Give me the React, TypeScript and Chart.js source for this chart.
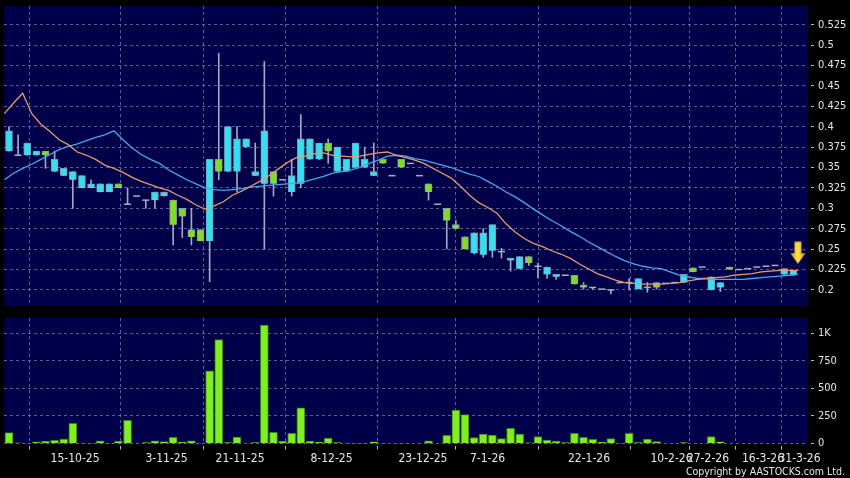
import React, { useEffect, useRef } from 'react';
import { Chart, registerables } from 'chart.js';

Chart.register(...registerables);

// ---------------- data ----------------
const opens = [
  0.370, 0.365, 0.365, 0.365, 0.370, 0.345, 0.340, 0.335, 0.325, 0.325,
  0.320, 0.320, 0.330, 0.305, 0.315, 0.310, 0.310, 0.315, 0.310, 0.300,
  0.274, 0.274, 0.260, 0.360, 0.345, 0.345, 0.375, 0.340, 0.330, 0.345,
  0.335, 0.320, 0.330, 0.360, 0.360, 0.380, 0.345, 0.345, 0.350, 0.350,
  0.340, 0.360, 0.340, 0.360, 0.355, 0.340, 0.330, 0.305, 0.300, 0.280,
  0.265, 0.245, 0.243, 0.248, 0.247, 0.236, 0.226, 0.241, 0.229, 0.219,
  0.216, 0.218, 0.218, 0.206, 0.203, 0.201, 0.200, 0.209, 0.209, 0.201,
  0.202, 0.209, 0.208, 0.209, 0.209, 0.227, 0.228, 0.200, 0.203, 0.228,
  0.225, 0.226, 0.228, 0.229, 0.230, 0.219, 0.218,
];
const highs = [
  0.400, 0.390, 0.380, 0.370, 0.370, 0.370, 0.349, 0.345, 0.340, 0.335,
  0.330, 0.330, 0.330, 0.325, 0.315, 0.310, 0.320, 0.320, 0.310, 0.300,
  0.300, 0.274, 0.360, 0.490, 0.400, 0.400, 0.385, 0.380, 0.480, 0.345,
  0.335, 0.360, 0.415, 0.385, 0.380, 0.385, 0.375, 0.360, 0.380, 0.375,
  0.380, 0.360, 0.340, 0.360, 0.355, 0.340, 0.330, 0.305, 0.300, 0.285,
  0.265, 0.270, 0.275, 0.280, 0.251, 0.239, 0.241, 0.241, 0.233, 0.228,
  0.219, 0.218, 0.218, 0.209, 0.203, 0.201, 0.200, 0.209, 0.214, 0.214,
  0.209, 0.209, 0.208, 0.209, 0.219, 0.227, 0.228, 0.216, 0.209, 0.228,
  0.225, 0.226, 0.228, 0.229, 0.230, 0.226, 0.224,
];
const lows = [
  0.370, 0.365, 0.365, 0.365, 0.349, 0.345, 0.340, 0.300, 0.325, 0.325,
  0.320, 0.320, 0.325, 0.305, 0.315, 0.300, 0.300, 0.315, 0.255, 0.264,
  0.255, 0.260, 0.210, 0.335, 0.345, 0.320, 0.375, 0.340, 0.250, 0.315,
  0.335, 0.315, 0.325, 0.360, 0.360, 0.355, 0.345, 0.345, 0.350, 0.350,
  0.340, 0.355, 0.340, 0.350, 0.355, 0.340, 0.310, 0.305, 0.250, 0.275,
  0.250, 0.244, 0.240, 0.240, 0.239, 0.223, 0.226, 0.230, 0.215, 0.214,
  0.213, 0.218, 0.207, 0.201, 0.201, 0.201, 0.195, 0.209, 0.200, 0.201,
  0.197, 0.201, 0.208, 0.209, 0.209, 0.222, 0.228, 0.200, 0.198, 0.225,
  0.225, 0.226, 0.228, 0.229, 0.230, 0.219, 0.218,
];
const closes = [
  0.395, 0.365, 0.380, 0.370, 0.365, 0.360, 0.349, 0.345, 0.340, 0.330,
  0.330, 0.330, 0.325, 0.305, 0.315, 0.310, 0.320, 0.320, 0.280, 0.290,
  0.265, 0.260, 0.360, 0.345, 0.400, 0.385, 0.385, 0.345, 0.395, 0.330,
  0.335, 0.340, 0.385, 0.385, 0.380, 0.370, 0.375, 0.360, 0.380, 0.360,
  0.345, 0.355, 0.340, 0.350, 0.355, 0.340, 0.320, 0.305, 0.285, 0.275,
  0.250, 0.270, 0.270, 0.280, 0.247, 0.239, 0.241, 0.233, 0.229, 0.228,
  0.219, 0.218, 0.207, 0.203, 0.203, 0.201, 0.200, 0.209, 0.209, 0.214,
  0.204, 0.203, 0.208, 0.209, 0.219, 0.222, 0.228, 0.216, 0.209, 0.225,
  0.225, 0.226, 0.228, 0.229, 0.230, 0.226, 0.224,
];
const volumes = [
  98, 5, 3, 14, 20, 29, 41, 183, 3, 2,
  25, 2, 20, 210, 0, 8, 25, 18, 56, 12,
  25, 2, 657, 940, 8, 59, 0, 8, 1073, 101,
  22, 92, 322, 20, 10, 50, 8, 3, 3, 3,
  16, 3, 0, 3, 0, 0, 25, 0, 74, 303,
  261, 53, 86, 77, 44, 137, 86, 5, 62, 32,
  22, 8, 92, 56, 38, 10, 44, 2, 92, 8,
  41, 18, 0, 0, 8, 0, 0, 62, 16, 0,
  0, 0, 0, 0, 0, 0, 0,
];
// moving averages, one vertex per day boundary (88 values)
const maShort = [
  0.416, 0.429, 0.441, 0.416, 0.403, 0.394, 0.384, 0.378, 0.369, 0.365,
  0.360, 0.353, 0.349, 0.344, 0.338, 0.333, 0.329, 0.325, 0.322, 0.316,
  0.311, 0.304, 0.299, 0.303, 0.308, 0.316, 0.321, 0.327, 0.333, 0.340,
  0.348, 0.356, 0.362, 0.364, 0.367, 0.368, 0.365, 0.364, 0.363, 0.364,
  0.366, 0.368, 0.369, 0.365, 0.362, 0.359, 0.355, 0.349, 0.343, 0.337,
  0.327, 0.316, 0.307, 0.301, 0.294, 0.281, 0.271, 0.263, 0.257, 0.253,
  0.248, 0.244, 0.239, 0.232, 0.226, 0.220, 0.216, 0.212, 0.209, 0.208,
  0.207, 0.207, 0.207, 0.208, 0.209, 0.211, 0.213, 0.214, 0.215, 0.216,
  0.218, 0.219, 0.220, 0.222, 0.223, 0.224, 0.224, 0.224,
];
const maLong = [
  0.335, 0.343, 0.349, 0.354, 0.360, 0.366, 0.372, 0.376, 0.379, 0.383,
  0.387, 0.390, 0.395, 0.384, 0.374, 0.366, 0.360, 0.355, 0.347, 0.341,
  0.335, 0.330, 0.325, 0.323, 0.322, 0.323, 0.324, 0.326, 0.327, 0.328,
  0.329, 0.330, 0.331, 0.333, 0.336, 0.339, 0.343, 0.345, 0.347, 0.350,
  0.355, 0.359, 0.364, 0.365, 0.364, 0.361, 0.359, 0.356, 0.353, 0.350,
  0.346, 0.342, 0.339, 0.333, 0.327, 0.320, 0.314, 0.307, 0.299, 0.292,
  0.285, 0.279, 0.272, 0.266, 0.259, 0.253, 0.247, 0.241, 0.236, 0.232,
  0.229, 0.227, 0.226, 0.222, 0.218, 0.216, 0.214, 0.214, 0.213, 0.213,
  0.213, 0.213, 0.214, 0.215, 0.216, 0.217, 0.218, 0.219,
];
const dateLabels = [
  '15-10-25', '3-11-25', '21-11-25', '8-12-25', '23-12-25', '7-1-26',
  '22-1-26', '10-2-26', '27-2-26', '16-3-26', '31-3-26',
];
const dateTickPos = [7.24, 17.27, 25.33, 35.36, 45.39, 52.47, 63.6, 72.64, 76.64, 82.68, 86.68];
const priceTicks = [0.2, 0.225, 0.25, 0.275, 0.3, 0.325, 0.35, 0.375, 0.4, 0.425, 0.45, 0.475, 0.5, 0.525];
const volumeTicks = [0, 250, 500, 750, 1000];
const volumeTickLabels = ['0', '250', '500', '750', '1K'];
const arrowMarker = [{ x: 86.5, y: 0.2455 }];

// ---------------- styling ----------------
const NAVY = '#00004a';
const GRID = 'rgba(125,125,175,0.75)';
const TEXT = '#e6e6e6';
const X_MIN = -0.548;
const X_MAX = 87.61;

const navyBg = {
  id: 'navyBg',
  beforeDraw(chart: any) {
    const { ctx, chartArea: a } = chart;
    ctx.save();
    ctx.fillStyle = NAVY;
    ctx.fillRect(a.left, a.top, a.right - a.left, a.bottom - a.top);
    ctx.restore();
  },
};

function makeArrow() {
  const c = document.createElement('canvas');
  c.width = 16;
  c.height = 23;
  const g = c.getContext('2d')!;
  const grad = g.createLinearGradient(0, 0, 16, 0);
  grad.addColorStop(0, '#c99400');
  grad.addColorStop(0.5, '#ffe34a');
  grad.addColorStop(1, '#c99400');
  g.fillStyle = grad;
  g.beginPath();
  g.moveTo(4.5, 0.5);
  g.lineTo(11.5, 0.5);
  g.lineTo(11.5, 12);
  g.lineTo(15.5, 12);
  g.lineTo(8, 22.5);
  g.lineTo(0.5, 12);
  g.lineTo(4.5, 12);
  g.closePath();
  g.fill();
  return c;
}

const zeroPadding = (s: any) => {
  s.paddingTop = 0;
  s.paddingBottom = 0;
  s.paddingLeft = 0;
  s.paddingRight = 0;
};

const xScaleBase = (showLabels: boolean) => ({
  type: 'linear' as const,
  min: X_MIN,
  max: X_MAX,
  offset: false,
  bounds: 'data' as const,
  afterBuildTicks: (s: any) => {
    s.ticks = dateTickPos.map((v) => ({ value: v }));
  },
  afterFit: (s: any) => {
    s.height = showLabels ? 34.5 : 0;
    zeroPadding(s);
  },
  border: { display: false, dash: [3, 3] },
  grid: {
    color: GRID,
    lineWidth: 1,
    drawTicks: showLabels,
    tickLength: 6,
    tickColor: '#bbbbbb',
    tickBorderDash: [0, 2, 4, 30],
  },
  ticks: {
    display: showLabels,
    autoSkip: false,
    maxRotation: 0,
    minRotation: 0,
    padding: 2,
    color: TEXT,
    font: { family: '"DejaVu Sans Condensed", "DejaVu Sans", sans-serif', size: 12 },
    callback: (_v: any, i: number) => dateLabels[i],
  },
});

const yScaleBase = (min: number, max: number, tickVals: number[], fmt: (v: number, i: number) => string) => ({
  type: 'linear' as const,
  position: 'right' as const,
  min,
  max,
  bounds: 'data' as const,
  afterBuildTicks: (s: any) => {
    s.ticks = tickVals.map((v) => ({ value: v }));
  },
  afterFit: (s: any) => {
    s.width = 42;
    zeroPadding(s);
  },
  border: { display: false, dash: [3, 3] },
  grid: {
    color: GRID,
    lineWidth: 1,
    drawTicks: true,
    tickLength: 6,
    tickColor: '#bbbbbb',
    tickBorderDash: [0, 3, 4, 30],
  },
  ticks: {
    padding: 4,
    color: TEXT,
    font: { family: '"DejaVu Sans Condensed", "DejaVu Sans", sans-serif', size: 11 },
    callback: (v: any, i: number) => fmt(v, i),
  },
});

export default function App() {
  const priceRef = useRef<HTMLCanvasElement>(null);
  const volRef = useRef<HTMLCanvasElement>(null);

  useEffect(() => {
    const idx = opens.map((_, i) => i);
    const wickData = idx.filter((i) => highs[i] > lows[i]).map((i) => ({ x: i, y: [lows[i], highs[i]] }));
    const upData = idx.filter((i) => closes[i] > opens[i]).map((i) => ({ x: i, y: [opens[i], closes[i]] }));
    const downData = idx.filter((i) => closes[i] < opens[i]).map((i) => ({ x: i, y: [closes[i], opens[i]] }));
    const flatData = idx.filter((i) => closes[i] === opens[i]).map((i) => ({ x: i, y: closes[i] }));
    const maShortData = maShort.map((v, k) => ({ x: k - 0.5, y: v }));
    const maLongData = maLong.map((v, k) => ({ x: k - 0.5, y: v }));

    const price = new Chart(priceRef.current!, {
      type: 'bar',
      data: {
        datasets: [
          {
            type: 'line',
            data: maShortData,
            borderColor: '#e8996f',
            borderWidth: 1.3,
            pointRadius: 0,
            tension: 0,
            order: 0,
          } as any,
          {
            type: 'line',
            data: maLongData,
            borderColor: '#43a9ea',
            borderWidth: 1.3,
            pointRadius: 0,
            tension: 0,
            order: 0,
          } as any,
          {
            type: 'scatter',
            data: arrowMarker,
            pointStyle: makeArrow(),
            pointRadius: 8,
            order: -1,
          } as any,
          {
            type: 'bar',
            data: upData,
            backgroundColor: '#30e2f0',
            borderColor: '#8a97ad',
            borderWidth: 1,
            barThickness: 7,
            grouped: false,
            order: 1,
          } as any,
          {
            type: 'bar',
            data: downData,
            backgroundColor: '#80de20',
            borderColor: '#8a97ad',
            borderWidth: 1,
            barThickness: 7,
            grouped: false,
            order: 1,
          } as any,
          {
            type: 'scatter',
            data: flatData,
            pointStyle: 'line',
            pointRadius: 3.5,
            borderColor: '#a9adc0',
            borderWidth: 1.5,
            order: 1,
          } as any,
          {
            type: 'bar',
            data: wickData,
            backgroundColor: '#a3a8ba',
            borderWidth: 0,
            barThickness: 1,
            grouped: false,
            order: 2,
          } as any,
        ],
      },
      options: {
        animation: false,
        responsive: false,
        events: [],
        devicePixelRatio: 1,
        layout: { autoPadding: false, padding: { left: 4, top: 6, right: 0, bottom: 6 } },
        plugins: { legend: { display: false }, tooltip: { enabled: false } },
        scales: {
          x: xScaleBase(false),
          y: yScaleBase(0.1803, 0.5479, priceTicks, (v) => String(v)),
        } as any,
      },
      plugins: [navyBg],
    });

    const vol = new Chart(volRef.current!, {
      type: 'bar',
      data: {
        datasets: [
          {
            data: volumes.map((v, i) => ({ x: i, y: v })),
            backgroundColor: '#7ef01a',
            borderColor: '#3f7f14',
            borderWidth: 1,
            barThickness: 8,
            grouped: false,
          } as any,
        ],
      },
      options: {
        animation: false,
        responsive: false,
        events: [],
        devicePixelRatio: 1,
        layout: { autoPadding: false, padding: { left: 4, top: 6, right: 0, bottom: 0 } },
        plugins: { legend: { display: false }, tooltip: { enabled: false } },
        scales: {
          x: xScaleBase(true),
          y: yScaleBase(0, 1136, volumeTicks, (_v, i) => volumeTickLabels[i]),
        } as any,
      },
      plugins: [navyBg],
    });

    return () => {
      price.destroy();
      vol.destroy();
    };
  }, []);

  return (
    <div
      style={{
        position: 'fixed',
        left: 0,
        top: 0,
        width: 850,
        height: 478,
        background: '#000',
        overflow: 'hidden',
      }}
    >
      <canvas
        ref={priceRef}
        width={850}
        height={312}
        style={{ position: 'absolute', left: 0, top: 0, width: 850, height: 312 }}
      />
      <canvas
        ref={volRef}
        width={850}
        height={166}
        style={{ position: 'absolute', left: 0, top: 312, width: 850, height: 166 }}
      />
      <div
        style={{
          position: 'absolute',
          right: 5,
          top: 465,
          color: TEXT,
          fontFamily: '"DejaVu Sans Condensed", "DejaVu Sans", sans-serif',
          fontSize: 10.5,
          lineHeight: '13px',
          whiteSpace: 'nowrap',
        }}
      >
        Copyright by AASTOCKS.com Ltd.
      </div>
    </div>
  );
}
